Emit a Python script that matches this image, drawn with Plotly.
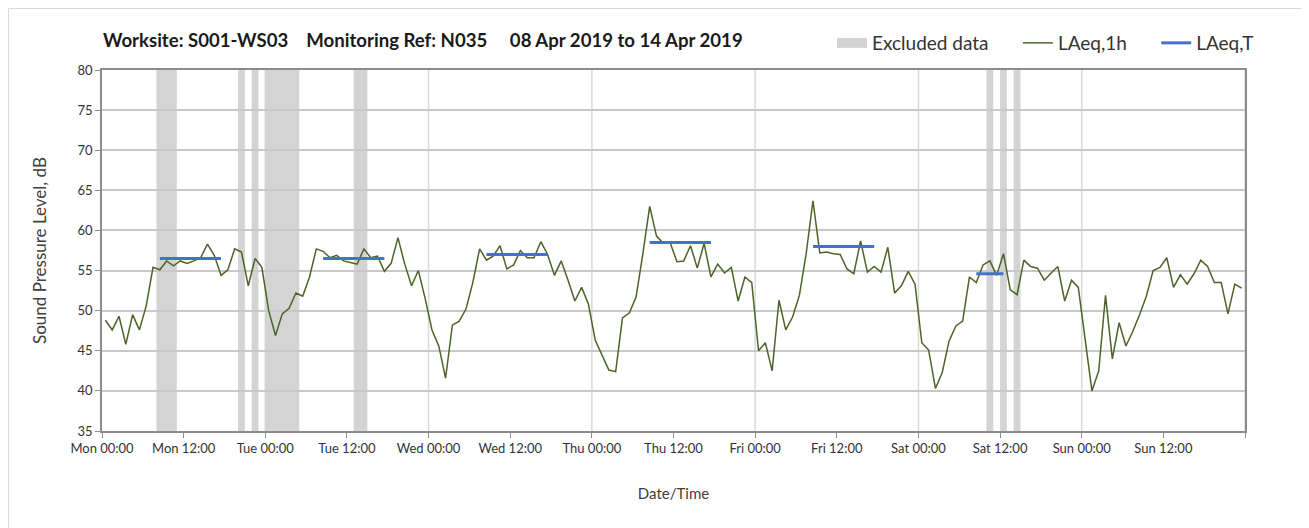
import plotly.graph_objects as go

# ---------------- data ----------------
tick_labels = ["Mon 00:00", "Mon 12:00", "Tue 00:00", "Tue 12:00", "Wed 00:00", "Wed 12:00",
               "Thu 00:00", "Thu 12:00", "Fri 00:00", "Fri 12:00", "Sat 00:00", "Sat 12:00",
               "Sun 00:00", "Sun 12:00"]
tick_hours = [0, 12, 24, 36, 48, 60, 72, 84, 96, 108, 120, 132, 144, 156]
day_boundaries = [24, 48, 72, 96, 120, 144, 168]

# hourly LAeq,1h values (hour index 0 = Mon 00:00-01:00)
laeq_1h = [
    48.8, 47.6, 49.3, 45.8, 49.5, 47.6, 50.6, 55.4, 55.1, 56.2, 55.6, 56.2,
    55.9, 56.2, 56.6, 58.3, 56.9, 54.4, 55.1, 57.7, 57.3, 53.1, 56.5, 55.4,
    50.0, 46.9, 49.6, 50.3, 52.2, 51.8, 54.2, 57.7, 57.4, 56.6, 56.9, 56.2,
    56.0, 55.8, 57.7, 56.6, 56.8, 54.9, 55.9, 59.1, 55.8, 53.1, 55.0, 51.5,
    47.6, 45.6, 41.6, 48.2, 48.7, 50.2, 53.5, 57.7, 56.3, 56.8, 58.1, 55.2,
    55.7, 57.5, 56.6, 56.6, 58.6, 57.0, 54.4, 56.2, 53.8, 51.2, 52.9, 50.8,
    46.3, 44.5, 42.6, 42.4, 49.1, 49.7, 51.7, 57.1, 63.0, 59.3, 58.4, 58.5,
    56.1, 56.2, 58.1, 55.3, 58.4, 54.2, 55.8, 54.7, 55.4, 51.2, 54.2, 53.5,
    45.0, 46.0, 42.5, 51.3, 47.6, 49.2, 51.9, 57.1, 63.7, 57.2, 57.3, 57.1,
    57.0, 55.2, 54.6, 58.7, 54.8, 55.5, 54.8, 57.9, 52.2, 53.1, 54.9, 53.3,
    46.0, 45.1, 40.3, 42.3, 46.2, 48.1, 48.7, 54.2, 53.5, 55.7, 56.2, 54.4,
    57.1, 52.6, 52.0, 56.3, 55.5, 55.3, 53.8, 54.7, 55.5, 51.2, 53.8, 52.9,
    46.5, 40.0, 42.5, 51.9, 44.0, 48.5, 45.6, 47.4, 49.5, 51.8, 55.0, 55.4,
    56.6, 52.9, 54.5, 53.3, 54.6, 56.3, 55.5, 53.5, 53.5, 49.6, 53.3, 52.8,
]

# LAeq,T periods (start hour, end hour) and values
laeqT_start = [8, 32, 56, 80, 104, 128]
laeqT_end = [18, 42, 66, 90, 114, 133]
laeqT_value = [56.5, 56.5, 57.0, 58.5, 58.0, 54.6]

# excluded data periods (start hour, end hour)
excl_start = [8, 20, 22, 24, 37, 130, 132, 134]
excl_end = [11, 21, 23, 29, 39, 131, 133, 135]

# ---------------- styles ----------------
GREEN = "#4F6228"
BLUE = "#4472C4"
GREY_BAND = "#D4D4D4"
FONT = "Lato"
PAD = "\u00a0" * 5

fig = go.Figure()

# legend proxy for excluded data
fig.add_trace(go.Scatter(x=[None], y=[None], mode="lines", name="Excluded data" + PAD,
                         line=dict(color=GREY_BAND, width=14), hoverinfo="skip"))

x_1h = [h + 0.5 for h in range(len(laeq_1h))]
fig.add_trace(go.Scatter(x=x_1h, y=laeq_1h, mode="lines", name="LAeq,1h" + PAD,
                         line=dict(color=GREEN, width=1.5)))

tx, ty = [], []
for s, e, v in zip(laeqT_start, laeqT_end, laeqT_value):
    tx += [s + 0.5, e - 0.5, None]
    ty += [v, v, None]
fig.add_trace(go.Scatter(x=tx, y=ty, mode="lines", name="LAeq,T",
                         line=dict(color=BLUE, width=3)))

shapes = []
for s, e in zip(excl_start, excl_end):
    shapes.append(dict(type="rect", xref="x", yref="y", x0=s, x1=e, y0=35, y1=80,
                       fillcolor=GREY_BAND, line=dict(width=0), layer="below"))
for d in day_boundaries:
    shapes.append(dict(type="line", xref="x", yref="paper", x0=d, x1=d, y0=0, y1=1,
                       line=dict(color="#D9D9D9", width=1.5), layer="below"))

# page has an 8px body offset, so margins are set relative to that
W, H = 1309, 528
L, R, T, B = 94, 72, 62, 105
pw, ph = W - L - R, H - T - B

# outer chart border
shapes.append(dict(type="rect", xref="paper", yref="paper",
                   x0=(0.5 - L) / pw, x1=(1300 - L) / pw,
                   y0=-(B - 0.5) / ph, y1=1 + (T - 0.5) / ph,
                   line=dict(color="#D9D9D9", width=1), fillcolor="rgba(0,0,0,0)", layer="below"))

fig.update_layout(
    width=W, height=H,
    margin=dict(l=L, r=R, t=T, b=B),
    paper_bgcolor="white", plot_bgcolor="white",
    font=dict(family=FONT, color="#404040", size=13),
    shapes=shapes,
    title=dict(text="<b>Worksite: S001-WS03    Monitoring Ref: N035     08 Apr 2019 to 14 Apr 2019</b>",
               x=(103 - 8) / W, xanchor="left", xref="container",
               y=1 - (40 - 8) / H, yanchor="middle", yref="container",
               font=dict(family=FONT, size=18.6, color="#1A1A1A")),
    legend=dict(orientation="h", x=1 + 14 / pw, xanchor="right", y=1 + 27 / ph, yanchor="middle",
                font=dict(family=FONT, size=19, color="#333333"),
                bgcolor="rgba(0,0,0,0)", itemwidth=30, traceorder="normal"),
    showlegend=True,
)

fig.update_xaxes(
    range=[0, 168], tickmode="array", tickvals=tick_hours + [168], ticktext=tick_labels + [""],
    ticks="outside", ticklen=5, tickcolor="#8C8C8C", showgrid=False, zeroline=False,
    showline=True, linecolor="#8C8C8C", linewidth=1.5, mirror=True,
    tickfont=dict(family=FONT, size=13, color="#333333"),
    title=dict(text="Date/Time", font=dict(family=FONT, size=15, color="#404040"), standoff=33),
)
fig.update_yaxes(
    range=[35, 80], tickmode="linear", tick0=35, dtick=5,
    ticks="outside", ticklen=5, tickcolor="#8C8C8C",
    showgrid=True, gridcolor="#C8C8C8", gridwidth=1.5, zeroline=False,
    showline=True, linecolor="#8C8C8C", linewidth=1.5, mirror=True,
    tickfont=dict(family=FONT, size=13, color="#333333"),
    title=dict(text="Sound Pressure Level, dB", font=dict(family=FONT, size=17, color="#404040"), standoff=27),
)

fig.write_html("out.html")
